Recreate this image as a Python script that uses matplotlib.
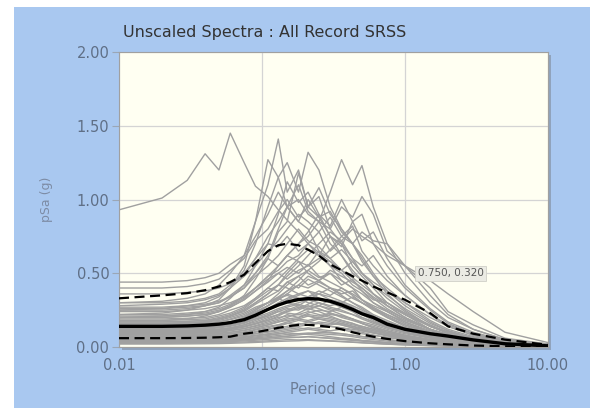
import numpy as np
import matplotlib.pyplot as plt
from matplotlib.patches import Rectangle

periods = [0.01, 0.02, 0.03, 0.04, 0.05, 0.06, 0.075, 0.09, 0.11, 0.13, 0.15, 0.18, 0.21,
           0.25, 0.3, 0.36, 0.43, 0.5, 0.6, 0.75, 1.0, 1.5, 2.0, 3.0, 5.0, 10.0]

median = [0.14, 0.14, 0.143, 0.148, 0.155, 0.165, 0.185, 0.215, 0.255, 0.285, 0.305, 0.322, 0.328,
          0.325, 0.31, 0.285, 0.255, 0.225, 0.20, 0.155, 0.12, 0.09, 0.074, 0.048, 0.022, 0.008]
plus_sigma = [0.33, 0.35, 0.365, 0.385, 0.41, 0.44, 0.49, 0.57, 0.65, 0.69, 0.70, 0.69, 0.66,
              0.62, 0.56, 0.52, 0.48, 0.45, 0.41, 0.37, 0.32, 0.23, 0.14, 0.09, 0.05, 0.014]
minus_sigma = [0.06, 0.06, 0.061, 0.063, 0.066, 0.07, 0.09, 0.10, 0.115, 0.13, 0.14, 0.15, 0.15,
               0.145, 0.135, 0.12, 0.10, 0.085, 0.07, 0.055, 0.04, 0.025, 0.018, 0.01, 0.005, 0.002]

records = [
    [0.93, 1.01, 1.13, 1.31, 1.20, 1.45, 1.25, 1.09, 1.02, 0.93, 0.86, 0.78, 0.70, 0.64, 0.58, 0.52, 0.47, 0.42, 0.36, 0.30, 0.23, 0.15, 0.10, 0.06, 0.03, 0.012],
    [0.30, 0.31, 0.33, 0.36, 0.42, 0.50, 0.62, 0.85, 1.10, 1.41, 1.05, 1.20, 0.95, 0.88, 0.75, 0.70, 0.55, 0.48, 0.40, 0.30, 0.22, 0.12, 0.08, 0.05, 0.025, 0.01],
    [0.25, 0.26, 0.28, 0.30, 0.34, 0.40, 0.52, 0.70, 0.95, 1.15, 1.25, 1.05, 1.32, 1.20, 0.95, 0.80, 0.70, 0.60, 0.48, 0.36, 0.25, 0.14, 0.09, 0.05, 0.025, 0.01],
    [0.28, 0.29, 0.30, 0.32, 0.35, 0.40, 0.48, 0.60, 0.75, 0.85, 0.95, 1.00, 0.90, 0.85, 1.05, 1.27, 1.10, 1.23, 0.95, 0.70, 0.50, 0.30, 0.20, 0.12, 0.05, 0.02],
    [0.22, 0.23, 0.25, 0.28, 0.32, 0.40, 0.55, 0.85, 1.27, 1.15, 0.95, 0.85, 0.80, 0.65, 0.55, 0.45, 0.40, 0.32, 0.26, 0.20, 0.15, 0.09, 0.06, 0.035, 0.017, 0.007],
    [0.20, 0.21, 0.22, 0.24, 0.27, 0.33, 0.42, 0.55, 0.70, 0.90, 1.12, 0.98, 1.05, 0.90, 0.75, 0.62, 0.52, 0.45, 0.36, 0.28, 0.20, 0.12, 0.08, 0.045, 0.02, 0.008],
    [0.18, 0.18, 0.19, 0.21, 0.24, 0.28, 0.35, 0.46, 0.60, 0.78, 0.85, 1.18, 0.95, 1.02, 0.80, 0.70, 0.60, 0.50, 0.42, 0.33, 0.24, 0.14, 0.10, 0.06, 0.028, 0.01],
    [0.20, 0.20, 0.21, 0.22, 0.24, 0.27, 0.32, 0.38, 0.45, 0.55, 0.62, 0.70, 0.75, 0.85, 0.80, 0.95, 0.88, 1.02, 0.90, 0.65, 0.55, 0.35, 0.22, 0.12, 0.05, 0.02],
    [0.15, 0.15, 0.16, 0.17, 0.19, 0.21, 0.25, 0.30, 0.36, 0.42, 0.48, 0.55, 0.62, 0.70, 0.78, 0.72, 0.80, 0.75, 0.70, 0.62, 0.55, 0.40, 0.24, 0.15, 0.06, 0.02],
    [0.12, 0.12, 0.125, 0.13, 0.14, 0.16, 0.19, 0.23, 0.28, 0.33, 0.38, 0.45, 0.52, 0.58, 0.66, 0.75, 0.70, 0.78, 0.72, 0.70, 0.55, 0.45, 0.36, 0.24, 0.10, 0.03],
    [0.44, 0.44, 0.45, 0.47, 0.50, 0.56, 0.62, 0.75, 0.90, 1.05, 0.95, 1.10, 0.92, 0.85, 0.70, 0.62, 0.50, 0.45, 0.36, 0.28, 0.20, 0.12, 0.08, 0.05, 0.022, 0.009],
    [0.40, 0.40, 0.41, 0.43, 0.46, 0.52, 0.60, 0.72, 0.80, 0.92, 1.00, 0.88, 0.95, 1.08, 0.90, 0.80, 0.70, 0.62, 0.50, 0.38, 0.28, 0.17, 0.11, 0.06, 0.028, 0.01],
    [0.36, 0.36, 0.37, 0.38, 0.40, 0.43, 0.48, 0.55, 0.65, 0.72, 0.80, 0.90, 0.85, 0.78, 0.88, 0.75, 0.82, 0.65, 0.55, 0.45, 0.35, 0.22, 0.14, 0.08, 0.035, 0.012],
    [0.30, 0.30, 0.31, 0.33, 0.36, 0.42, 0.50, 0.60, 0.70, 0.68, 0.75, 0.65, 0.70, 0.62, 0.55, 0.50, 0.42, 0.38, 0.30, 0.24, 0.17, 0.10, 0.07, 0.04, 0.018, 0.007],
    [0.27, 0.27, 0.28, 0.29, 0.31, 0.34, 0.40, 0.48, 0.55, 0.62, 0.70, 0.80, 0.72, 0.68, 0.60, 0.66, 0.58, 0.50, 0.42, 0.35, 0.26, 0.16, 0.11, 0.06, 0.026, 0.01],
    [0.25, 0.25, 0.26, 0.28, 0.30, 0.35, 0.42, 0.50, 0.60, 0.55, 0.62, 0.58, 0.50, 0.45, 0.40, 0.35, 0.30, 0.26, 0.21, 0.16, 0.12, 0.07, 0.05, 0.03, 0.014, 0.005],
    [0.24, 0.24, 0.25, 0.26, 0.28, 0.30, 0.34, 0.40, 0.48, 0.52, 0.58, 0.62, 0.70, 0.78, 0.65, 0.72, 0.60, 0.55, 0.62, 0.48, 0.35, 0.22, 0.15, 0.09, 0.04, 0.015],
    [0.22, 0.22, 0.23, 0.24, 0.26, 0.29, 0.34, 0.40, 0.46, 0.50, 0.54, 0.50, 0.56, 0.48, 0.44, 0.40, 0.35, 0.30, 0.25, 0.20, 0.14, 0.09, 0.06, 0.035, 0.016, 0.006],
    [0.20, 0.20, 0.21, 0.22, 0.24, 0.27, 0.32, 0.38, 0.44, 0.50, 0.46, 0.52, 0.55, 0.60, 0.58, 0.52, 0.45, 0.40, 0.33, 0.26, 0.19, 0.12, 0.08, 0.05, 0.022, 0.008],
    [0.19, 0.19, 0.195, 0.20, 0.22, 0.25, 0.28, 0.33, 0.40, 0.38, 0.44, 0.48, 0.42, 0.45, 0.50, 0.42, 0.46, 0.38, 0.32, 0.30, 0.22, 0.14, 0.10, 0.06, 0.026, 0.01],
    [0.17, 0.17, 0.175, 0.18, 0.20, 0.22, 0.26, 0.32, 0.38, 0.42, 0.40, 0.36, 0.38, 0.33, 0.30, 0.27, 0.24, 0.20, 0.17, 0.13, 0.10, 0.06, 0.045, 0.028, 0.013, 0.005],
    [0.16, 0.16, 0.165, 0.17, 0.18, 0.20, 0.23, 0.27, 0.30, 0.34, 0.38, 0.42, 0.40, 0.44, 0.40, 0.36, 0.38, 0.32, 0.27, 0.22, 0.16, 0.10, 0.07, 0.04, 0.018, 0.007],
    [0.15, 0.15, 0.155, 0.16, 0.17, 0.19, 0.22, 0.26, 0.30, 0.33, 0.35, 0.32, 0.34, 0.36, 0.32, 0.30, 0.27, 0.23, 0.19, 0.16, 0.12, 0.08, 0.06, 0.035, 0.016, 0.006],
    [0.14, 0.14, 0.145, 0.15, 0.16, 0.17, 0.19, 0.22, 0.25, 0.28, 0.32, 0.35, 0.38, 0.36, 0.40, 0.38, 0.33, 0.30, 0.26, 0.21, 0.15, 0.10, 0.07, 0.04, 0.018, 0.007],
    [0.13, 0.13, 0.135, 0.14, 0.15, 0.17, 0.20, 0.25, 0.30, 0.33, 0.30, 0.28, 0.26, 0.24, 0.21, 0.18, 0.16, 0.13, 0.11, 0.09, 0.065, 0.04, 0.03, 0.018, 0.008, 0.003],
    [0.12, 0.12, 0.125, 0.13, 0.14, 0.15, 0.17, 0.20, 0.23, 0.26, 0.28, 0.30, 0.32, 0.30, 0.28, 0.30, 0.26, 0.24, 0.20, 0.16, 0.12, 0.08, 0.055, 0.032, 0.015, 0.006],
    [0.11, 0.11, 0.115, 0.12, 0.13, 0.14, 0.16, 0.19, 0.21, 0.24, 0.26, 0.25, 0.28, 0.26, 0.23, 0.21, 0.19, 0.16, 0.14, 0.11, 0.08, 0.05, 0.035, 0.02, 0.009, 0.004],
    [0.10, 0.10, 0.105, 0.11, 0.12, 0.13, 0.15, 0.17, 0.20, 0.22, 0.24, 0.27, 0.25, 0.28, 0.26, 0.24, 0.22, 0.20, 0.17, 0.14, 0.10, 0.065, 0.045, 0.026, 0.012, 0.005],
    [0.09, 0.09, 0.095, 0.10, 0.11, 0.12, 0.14, 0.16, 0.18, 0.20, 0.21, 0.22, 0.24, 0.22, 0.20, 0.18, 0.16, 0.14, 0.12, 0.09, 0.07, 0.045, 0.032, 0.018, 0.008, 0.003],
    [0.08, 0.08, 0.082, 0.085, 0.09, 0.10, 0.11, 0.13, 0.15, 0.17, 0.19, 0.20, 0.22, 0.21, 0.23, 0.20, 0.18, 0.16, 0.13, 0.11, 0.08, 0.05, 0.035, 0.02, 0.009, 0.004],
    [0.07, 0.07, 0.072, 0.075, 0.08, 0.09, 0.10, 0.12, 0.14, 0.15, 0.16, 0.15, 0.17, 0.16, 0.14, 0.13, 0.11, 0.10, 0.08, 0.065, 0.05, 0.03, 0.022, 0.013, 0.006, 0.002],
    [0.065, 0.065, 0.067, 0.07, 0.075, 0.08, 0.09, 0.10, 0.12, 0.13, 0.14, 0.16, 0.15, 0.17, 0.16, 0.15, 0.13, 0.12, 0.10, 0.08, 0.06, 0.04, 0.028, 0.016, 0.007, 0.003],
    [0.06, 0.06, 0.062, 0.064, 0.068, 0.072, 0.08, 0.09, 0.10, 0.11, 0.12, 0.13, 0.12, 0.11, 0.10, 0.09, 0.08, 0.07, 0.06, 0.05, 0.035, 0.022, 0.016, 0.009, 0.004, 0.002],
    [0.05, 0.05, 0.052, 0.055, 0.06, 0.065, 0.07, 0.08, 0.09, 0.10, 0.11, 0.12, 0.13, 0.12, 0.11, 0.12, 0.10, 0.09, 0.08, 0.065, 0.05, 0.032, 0.022, 0.013, 0.006, 0.002],
    [0.045, 0.045, 0.047, 0.05, 0.053, 0.058, 0.065, 0.075, 0.085, 0.09, 0.095, 0.09, 0.085, 0.08, 0.07, 0.06, 0.055, 0.045, 0.04, 0.03, 0.022, 0.014, 0.01, 0.006, 0.003, 0.001],
    [0.04, 0.04, 0.042, 0.044, 0.046, 0.05, 0.055, 0.062, 0.07, 0.078, 0.085, 0.09, 0.095, 0.09, 0.085, 0.08, 0.07, 0.06, 0.05, 0.04, 0.03, 0.02, 0.014, 0.008, 0.004, 0.001],
    [0.035, 0.035, 0.036, 0.038, 0.04, 0.044, 0.05, 0.056, 0.062, 0.068, 0.07, 0.065, 0.07, 0.065, 0.058, 0.05, 0.045, 0.04, 0.033, 0.026, 0.02, 0.012, 0.009, 0.005, 0.002, 0.001],
    [0.03, 0.03, 0.031, 0.032, 0.034, 0.037, 0.041, 0.046, 0.052, 0.058, 0.062, 0.066, 0.07, 0.064, 0.06, 0.055, 0.048, 0.042, 0.036, 0.03, 0.022, 0.014, 0.01, 0.006, 0.003, 0.001],
    [0.025, 0.025, 0.026, 0.027, 0.029, 0.031, 0.034, 0.038, 0.042, 0.046, 0.05, 0.048, 0.05, 0.046, 0.042, 0.038, 0.034, 0.03, 0.025, 0.02, 0.015, 0.01, 0.007, 0.004, 0.002, 0.001],
    [0.02, 0.02, 0.021, 0.022, 0.023, 0.025, 0.028, 0.031, 0.035, 0.038, 0.04, 0.042, 0.045, 0.042, 0.04, 0.036, 0.032, 0.028, 0.024, 0.019, 0.014, 0.009, 0.006, 0.004, 0.002, 0.001],
    [0.21, 0.21, 0.22, 0.23, 0.25, 0.28, 0.33, 0.40, 0.48, 0.55, 0.62, 0.70, 0.78, 0.90, 0.82, 1.00, 0.85, 0.72, 0.78, 0.60, 0.42, 0.26, 0.17, 0.10, 0.045, 0.017],
    [0.18, 0.18, 0.185, 0.19, 0.21, 0.23, 0.27, 0.33, 0.40, 0.46, 0.52, 0.60, 0.66, 0.62, 0.75, 0.68, 0.85, 0.90, 0.70, 0.55, 0.40, 0.25, 0.16, 0.09, 0.04, 0.015],
    [0.26, 0.26, 0.27, 0.28, 0.30, 0.34, 0.40, 0.50, 0.62, 0.80, 0.95, 0.85, 1.00, 0.88, 0.92, 0.78, 0.70, 0.58, 0.48, 0.40, 0.30, 0.18, 0.12, 0.07, 0.03, 0.011],
    [0.16, 0.16, 0.165, 0.17, 0.19, 0.21, 0.25, 0.30, 0.36, 0.42, 0.50, 0.58, 0.55, 0.65, 0.60, 0.52, 0.58, 0.50, 0.44, 0.38, 0.30, 0.20, 0.14, 0.08, 0.035, 0.013],
    [0.13, 0.13, 0.135, 0.14, 0.15, 0.17, 0.20, 0.24, 0.28, 0.32, 0.36, 0.42, 0.48, 0.45, 0.52, 0.48, 0.44, 0.40, 0.34, 0.28, 0.22, 0.14, 0.10, 0.06, 0.026, 0.01],
    [0.12, 0.12, 0.123, 0.127, 0.135, 0.145, 0.165, 0.19, 0.22, 0.25, 0.27, 0.29, 0.27, 0.30, 0.27, 0.25, 0.22, 0.19, 0.16, 0.13, 0.10, 0.065, 0.05, 0.03, 0.014, 0.005],
    [0.10, 0.10, 0.103, 0.107, 0.113, 0.12, 0.135, 0.155, 0.18, 0.21, 0.24, 0.26, 0.29, 0.33, 0.31, 0.29, 0.26, 0.23, 0.19, 0.15, 0.11, 0.07, 0.05, 0.03, 0.013, 0.005],
    [0.09, 0.09, 0.092, 0.096, 0.10, 0.11, 0.125, 0.145, 0.17, 0.19, 0.22, 0.20, 0.23, 0.25, 0.24, 0.27, 0.25, 0.22, 0.18, 0.14, 0.10, 0.065, 0.045, 0.027, 0.012, 0.005],
    [0.085, 0.085, 0.087, 0.09, 0.095, 0.10, 0.115, 0.13, 0.15, 0.17, 0.18, 0.19, 0.18, 0.20, 0.19, 0.17, 0.15, 0.14, 0.12, 0.10, 0.075, 0.05, 0.035, 0.02, 0.009, 0.003],
    [0.075, 0.075, 0.077, 0.08, 0.085, 0.092, 0.10, 0.115, 0.13, 0.15, 0.17, 0.19, 0.21, 0.20, 0.22, 0.21, 0.19, 0.17, 0.15, 0.12, 0.09, 0.06, 0.042, 0.025, 0.011, 0.004],
    [0.11, 0.11, 0.112, 0.116, 0.122, 0.13, 0.15, 0.18, 0.21, 0.24, 0.23, 0.22, 0.21, 0.19, 0.17, 0.15, 0.13, 0.11, 0.095, 0.075, 0.055, 0.035, 0.025, 0.015, 0.007, 0.003],
    [0.14, 0.14, 0.143, 0.148, 0.156, 0.168, 0.19, 0.22, 0.26, 0.30, 0.33, 0.36, 0.34, 0.38, 0.35, 0.40, 0.36, 0.32, 0.28, 0.24, 0.18, 0.12, 0.085, 0.05, 0.022, 0.008],
    [0.17, 0.17, 0.173, 0.18, 0.19, 0.21, 0.24, 0.29, 0.34, 0.38, 0.44, 0.40, 0.46, 0.42, 0.38, 0.34, 0.30, 0.27, 0.22, 0.18, 0.13, 0.08, 0.055, 0.032, 0.015, 0.006],
    [0.055, 0.055, 0.057, 0.06, 0.064, 0.07, 0.078, 0.09, 0.105, 0.12, 0.13, 0.14, 0.15, 0.16, 0.15, 0.16, 0.14, 0.13, 0.11, 0.09, 0.07, 0.045, 0.032, 0.018, 0.008, 0.003],
    [0.095, 0.095, 0.097, 0.10, 0.105, 0.113, 0.125, 0.14, 0.16, 0.18, 0.20, 0.23, 0.26, 0.28, 0.32, 0.30, 0.34, 0.30, 0.26, 0.22, 0.17, 0.11, 0.08, 0.045, 0.02, 0.008],
    [0.13, 0.13, 0.133, 0.14, 0.15, 0.165, 0.19, 0.23, 0.28, 0.32, 0.36, 0.33, 0.30, 0.28, 0.25, 0.22, 0.19, 0.16, 0.13, 0.10, 0.075, 0.048, 0.034, 0.02, 0.009, 0.003],
    [0.105, 0.105, 0.108, 0.112, 0.118, 0.126, 0.14, 0.16, 0.19, 0.22, 0.25, 0.28, 0.32, 0.36, 0.34, 0.31, 0.28, 0.25, 0.21, 0.17, 0.13, 0.085, 0.06, 0.035, 0.016, 0.006],
    [0.045, 0.045, 0.046, 0.048, 0.05, 0.054, 0.06, 0.068, 0.078, 0.088, 0.10, 0.11, 0.12, 0.13, 0.14, 0.13, 0.12, 0.11, 0.095, 0.08, 0.06, 0.04, 0.028, 0.016, 0.007, 0.003],
    [0.065, 0.065, 0.067, 0.07, 0.074, 0.08, 0.09, 0.105, 0.12, 0.14, 0.16, 0.18, 0.17, 0.19, 0.18, 0.16, 0.14, 0.12, 0.10, 0.08, 0.06, 0.04, 0.028, 0.016, 0.007, 0.003],
    [0.155, 0.155, 0.158, 0.163, 0.172, 0.185, 0.21, 0.25, 0.30, 0.36, 0.42, 0.48, 0.52, 0.47, 0.50, 0.45, 0.40, 0.36, 0.30, 0.25, 0.19, 0.12, 0.085, 0.05, 0.022, 0.008],
    [0.035, 0.035, 0.036, 0.037, 0.039, 0.042, 0.047, 0.053, 0.06, 0.068, 0.075, 0.082, 0.09, 0.10, 0.095, 0.09, 0.08, 0.072, 0.062, 0.05, 0.038, 0.025, 0.018, 0.01, 0.005, 0.002],
]

y_ticks = [0.0, 0.5, 1.0, 1.5, 2.0]
x_ticks = [0.01, 0.1, 1.0, 10.0]

W, H = 590, 408
fig = plt.figure(figsize=(W / 100, H / 100), dpi=100, facecolor='white')

# blue panel behind everything
fig.patches.append(Rectangle((14 / W, 0), 1 - 14 / W, 1 - 7 / H, transform=fig.transFigure,
                             facecolor='#a9c8f0', edgecolor='none', zorder=-10))

ax_l, ax_b = 119 / W, 1 - 347 / H
ax_w, ax_h = (548 - 119) / W, (347 - 52) / H
# soft shadow on right/bottom of plot area
fig.patches.append(Rectangle((ax_l + 3 / W, ax_b - 3 / H), ax_w, ax_h, transform=fig.transFigure,
                             facecolor='#8a9ab0', edgecolor='none', zorder=-5, alpha=0.8))

ax = fig.add_axes([ax_l, ax_b, ax_w, ax_h])
ax.set_facecolor('#fffff2')
ax.set_xscale('log')

for rec in records:
    ax.plot(periods, rec, color='#a0a0a0', lw=1.0, zorder=2)

ax.plot(periods, plus_sigma, color='black', lw=1.6, dashes=(4.5, 2.5), zorder=4)
ax.plot(periods, minus_sigma, color='black', lw=1.6, dashes=(4.5, 2.5), zorder=4)
ax.plot(periods, median, color='black', lw=2.4, zorder=5)

ax.set_xlim(0.01, 10)
ax.set_ylim(0, 2)
ax.set_yticks(y_ticks)
ax.set_yticklabels(['%.2f' % v for v in y_ticks])
ax.set_xticks(x_ticks)
ax.set_xticklabels(['%.2f' % v for v in x_ticks])
ax.minorticks_off()
ax.grid(True, color='#d4d4d4', lw=0.9, zorder=1)
ax.set_axisbelow(True)

tick_col = '#5f6f86'
ax.tick_params(axis='y', length=5, width=0.8, color='#9aa6b6', pad=2, labelsize=10.5, labelcolor=tick_col)
ax.tick_params(axis='x', length=0, pad=8, labelsize=10.5, labelcolor=tick_col)
for s in ax.spines.values():
    s.set_color('#a0a0a0')
    s.set_linewidth(0.8)

ax.set_xlabel('Period (sec)', fontsize=10.5, color='#6c7d96', labelpad=6)
ax.set_ylabel('pSa (g)', fontsize=9, color='#7d8ca5', labelpad=17)

fig.text(265 / W, 1 - 33 / H, 'Unscaled Spectra : All Record SRSS', ha='center', va='center',
         fontsize=11.5, color='#333333')

ax.annotate('0.750, 0.320', xy=(0.75, 0.32), xytext=(22, 19), textcoords='offset points',
            fontsize=7.5, color='#555555', va='center', ha='left', zorder=6,
            bbox=dict(boxstyle='square,pad=0.25', facecolor='#ebebe4', edgecolor='#d0d0c8', lw=0.6))

fig.savefig('out.png', dpi=100)
